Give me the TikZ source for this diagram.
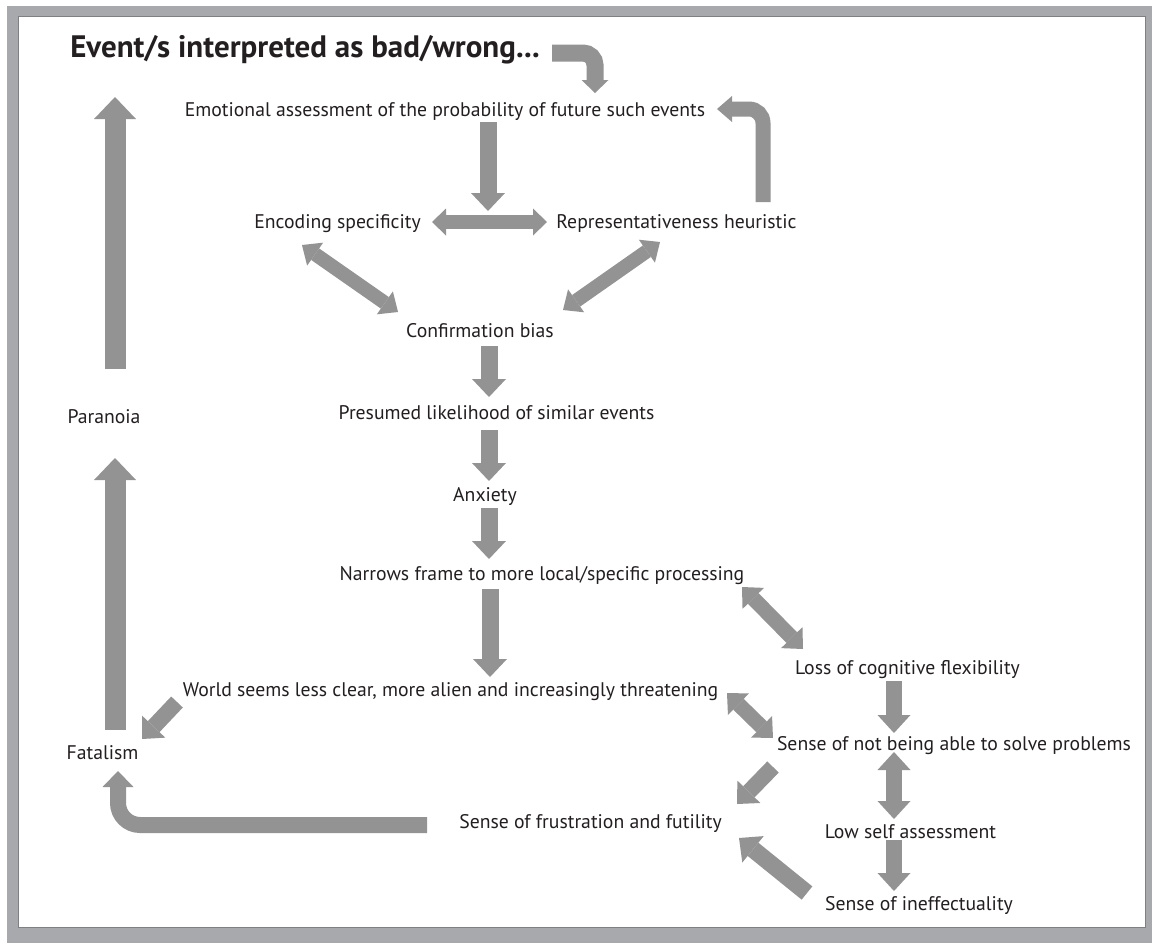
\documentclass[tikz,border=0pt]{standalone}
\usepackage{fontspec}
\setmainfont{PT Sans}
\usetikzlibrary{arrows.meta}
\definecolor{agray}{HTML}{939393}
\definecolor{bgray}{HTML}{A7A9AC}
\definecolor{lgray}{HTML}{7E8083}
\definecolor{ink}{HTML}{231F20}
\begin{document}
\begin{tikzpicture}[x=1pt,y=-1pt,
  lbl/.style={anchor=base, inner sep=0pt, text=ink, font=\fontsize{19.7}{24}\selectfont},
  ttl/.style={anchor=base, inner sep=0pt, text=ink, font=\bfseries\fontsize{31}{36}\selectfont},
  arr/.style n args={3}{draw=agray, line width=#1, -{Triangle[width=#2,length=#3,line width=0pt]}},
  darr/.style n args={3}{draw=agray, line width=#1, {Triangle[width=#2,length=#3,line width=0pt]}-{Triangle[width=#2,length=#3,line width=0pt]}}
]
\useasboundingbox (0,0) rectangle (1152,943);
\fill[white] (0,0) rectangle (1152,943);
\fill[bgray] (7,6) rectangle (1152,943);
\filldraw[fill=white, draw=lgray, line width=1pt] (18,16) rectangle (1145,927);

% labels
\node[ttl] (title) at (305,57) {Event/s interpreted as bad/wrong...};
\node[lbl] (emo) at (445,116) {Emotional assessment of the probability of future such events};
\node[lbl] (enc) at (337.5,228) {Encoding specificity};
\node[lbl] (rep) at (676.5,228) {Representativeness heuristic};
\node[lbl] (conf) at (480,337) {Confirmation bias};
\node[lbl] (pres) at (496.5,419) {Presumed likelihood of similar events};
\node[lbl] (anx) at (485,501) {Anxiety};
\node[lbl] (narr) at (542,580) {Narrows frame to more local/specific processing};
\node[lbl] (world) at (450.5,696) {World seems less clear, more alien and increasingly threatening};
\node[lbl] (loss) at (907.5,674) {Loss of cognitive flexibility};
\node[lbl] (snot) at (954,750) {Sense of not being able to solve problems};
\node[lbl] (frus) at (590.5,828) {Sense of frustration and futility};
\node[lbl] (low) at (910.5,838) {Low self assessment};
\node[lbl] (ineff) at (919,910) {Sense of ineffectuality};
\node[lbl] (para) at (104,423) {Paranoia};
\node[lbl] (fat) at (102.5,759) {Fatalism};

% connector end points
\coordinate (t1) at (552,53);   \coordinate (t2) at (595,93);
\coordinate (e1) at (488,122);  \coordinate (e2) at (488,211);
\coordinate (h1) at (432,222);  \coordinate (h2) at (547,222);
\coordinate (r1) at (763,202);  \coordinate (r2) at (717,109);
\coordinate (ec1) at (302,245); \coordinate (ec2) at (398,312);
\coordinate (rc1) at (660,242); \coordinate (rc2) at (563,310);
\coordinate (c1) at (489,346);  \coordinate (c2) at (489,397);
\coordinate (p1) at (489,430);  \coordinate (p2) at (489,481);
\coordinate (a1) at (489,508);  \coordinate (a2) at (489,559);
\coordinate (n1) at (490,589);  \coordinate (n2) at (490,677);
\coordinate (nl1) at (742,587); \coordinate (nl2) at (803,649);
\coordinate (l1) at (894,681);  \coordinate (l2) at (894,733);
\coordinate (ws1) at (727,693); \coordinate (ws2) at (773,738);
\coordinate (wf1) at (177,702); \coordinate (wf2) at (142,739);
\coordinate (sl1) at (894,752); \coordinate (sl2) at (894,819);
\coordinate (sf1) at (773,767); \coordinate (sf2) at (737,804);
\coordinate (li1) at (894,840); \coordinate (li2) at (894,891);
\coordinate (if1) at (807,893); \coordinate (if2) at (739,838);
\coordinate (ff1) at (427,825); \coordinate (ff2) at (118,771);
\coordinate (fp1) at (115,730); \coordinate (fp2) at (115,458);
\coordinate (pt1) at (115,369); \coordinate (pt2) at (115,97);

% connectors
\draw[arr={17pt}{27pt}{13pt}, rounded corners=12pt] (t1) -- (t1 -| t2) -- (t2);
\draw[arr={17pt}{34pt}{18pt}] (e1) -- (e2);
\draw[darr={14pt}{27pt}{14pt}] (h1) -- (h2);
\draw[arr={15pt}{26pt}{15pt}, rounded corners=14pt] (r1) -- (r1 |- r2) -- (r2);
\draw[darr={14pt}{28pt}{16pt}] (ec1) -- (ec2);
\draw[darr={14pt}{28pt}{16pt}] (rc1) -- (rc2);
\draw[arr={17pt}{34pt}{18pt}] (c1) -- (c2);
\draw[arr={17pt}{34pt}{18pt}] (p1) -- (p2);
\draw[arr={17pt}{34pt}{18pt}] (a1) -- (a2);
\draw[arr={17pt}{34pt}{18pt}] (n1) -- (n2);
\draw[darr={15pt}{30pt}{16pt}] (nl1) -- (nl2);
\draw[arr={16pt}{33pt}{18pt}] (l1) -- (l2);
\draw[darr={15pt}{30pt}{16pt}] (ws1) -- (ws2);
\draw[arr={16pt}{32pt}{17pt}] (wf1) -- (wf2);
\draw[darr={16pt}{33pt}{18pt}] (sl1) -- (sl2);
\draw[arr={16pt}{32pt}{17pt}] (sf1) -- (sf2);
\draw[arr={16pt}{33pt}{18pt}] (li1) -- (li2);
\draw[arr={17pt}{34pt}{18pt}] (if1) -- (if2);
\draw[arr={16pt}{31pt}{16pt}, rounded corners=22pt] (ff1) -- (ff1 -| ff2) -- (ff2);
\draw[arr={21pt}{42pt}{22pt}] (fp1) -- (fp2);
\draw[arr={21pt}{42pt}{22pt}] (pt1) -- (pt2);
\end{tikzpicture}
\end{document}
